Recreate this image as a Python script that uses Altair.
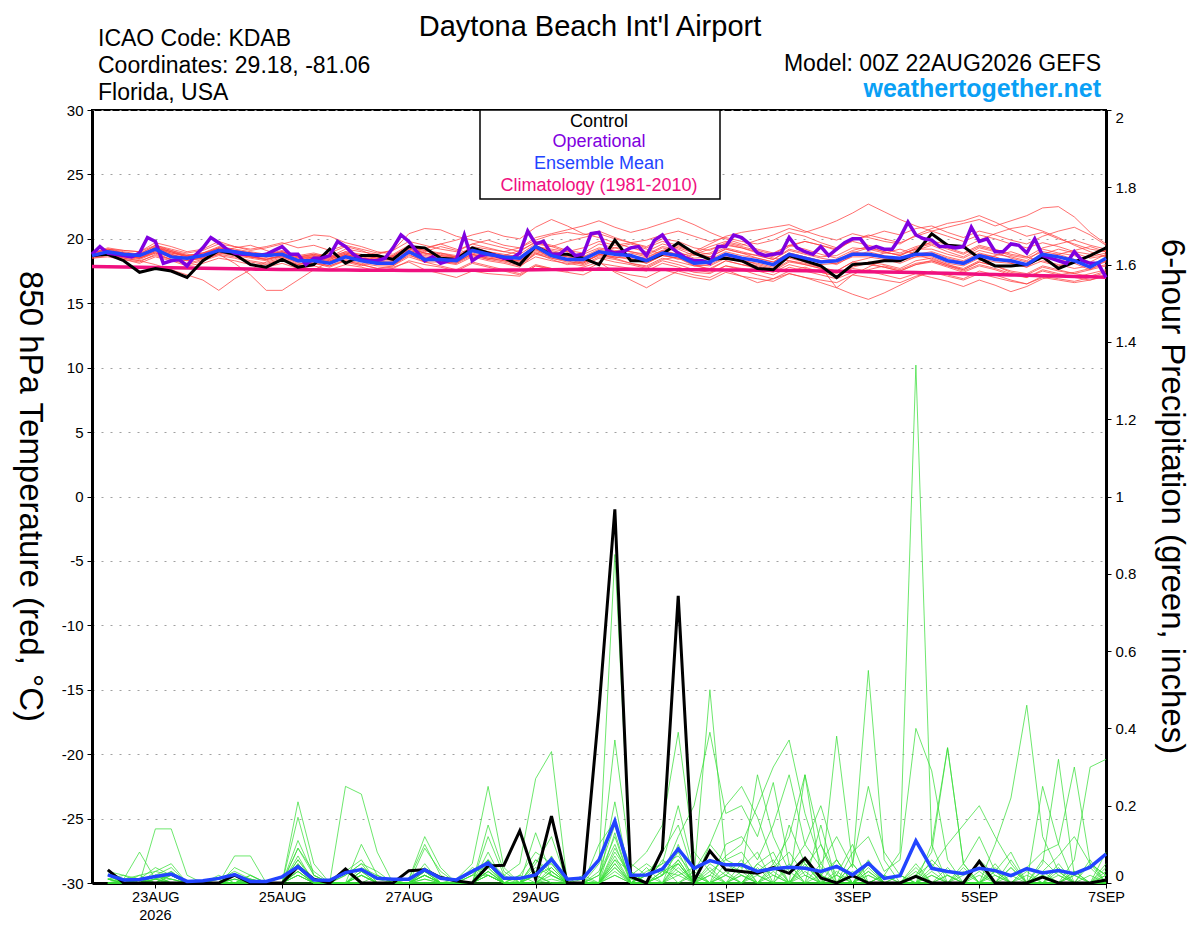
import altair as alt
import pandas as pd

FONT = "Liberation Sans"

# ---------------- axis / label definitions ----------------
# x is hours since 00Z 22AUG2026
X_DOMAIN = [0, 384]
TICK_HOURS = [24, 72, 120, 168, 240, 288, 336, 384]
TICK_LABELS = ["23AUG", "25AUG", "27AUG", "29AUG", "1SEP", "3SEP", "5SEP", "7SEP"]
YEAR_LABEL = "2026"
STEP_T = 6      # 6-hourly ensemble output
STEP_OP = 3     # 3-hourly operational output
TEMP_TICKS = [-30, -25, -20, -15, -10, -5, 0, 5, 10, 15, 20, 25, 30]
PRECIP_TICKS = [0, 0.2, 0.4, 0.6, 0.8, 1.0, 1.2, 1.4, 1.6, 1.8, 2.0]

# ---------------- 850 hPa temperature (deg C) ----------------
CONTROL_T = [
    18.7, 18.8, 18.3, 17.4, 17.7, 17.5, 17.0, 18.3, 19.1, 18.8,
    18.0, 17.8, 18.4, 17.8, 18.0, 19.2, 18.1, 18.7, 18.7, 18.4,
    19.4, 19.3, 18.5, 18.4, 19.3, 18.9, 18.5, 18.0, 19.4, 18.8,
    18.8, 18.5, 18.0, 19.9, 18.3, 18.3, 18.8, 19.7, 18.9, 18.4,
    18.5, 18.3, 17.7, 17.6, 18.7, 18.3, 17.9, 17.0, 18.0, 18.1,
    18.3, 18.3, 18.9, 20.4, 19.5, 19.4, 18.5, 17.9, 17.9, 18.0,
    18.6, 17.7, 18.2, 18.7, 19.3]

MEAN_T = [
    18.7, 19.0, 18.8, 18.7, 19.2, 18.6, 18.5, 18.7, 19.1, 19.0,
    18.8, 18.7, 18.8, 18.3, 18.3, 18.1, 18.6, 18.3, 18.1, 18.1,
    19.0, 18.4, 18.4, 18.3, 19.1, 18.8, 18.6, 18.5, 19.4, 18.7,
    18.4, 18.4, 19.0, 18.8, 18.7, 18.3, 18.9, 18.7, 18.1, 18.2,
    18.8, 18.5, 18.3, 18.0, 18.8, 18.5, 18.2, 18.3, 18.8, 18.8,
    18.6, 18.5, 18.8, 18.8, 18.3, 18.1, 18.7, 18.4, 18.3, 18.0,
    18.8, 18.6, 18.3, 17.8, 18.5]

CLIMO_T = [
    17.85, 17.83, 17.81, 17.79, 17.77, 17.75, 17.73, 17.71, 17.69, 17.67,
    17.65, 17.63, 17.62, 17.61, 17.60, 17.59, 17.58, 17.57, 17.56, 17.56,
    17.55, 17.55, 17.55, 17.55, 17.56, 17.57, 17.58, 17.59, 17.60, 17.61,
    17.62, 17.63, 17.63, 17.63, 17.63, 17.62, 17.62, 17.61, 17.60, 17.60,
    17.59, 17.58, 17.57, 17.56, 17.54, 17.52, 17.50, 17.48, 17.46, 17.44,
    17.42, 17.40, 17.38, 17.35, 17.32, 17.29, 17.26, 17.23, 17.20, 17.17,
    17.14, 17.11, 17.08, 17.05, 17.02]

OPER_T = [
    18.8, 19.4, 18.9, 18.8, 18.7, 18.6, 18.9, 20.1, 19.8, 18.1,
    18.3, 18.4, 17.9, 18.7, 19.3, 20.1, 19.7, 19.2, 18.9, 18.8,
    18.8, 18.7, 18.8, 19.1, 19.4, 18.8, 18.8, 18.0, 18.5, 18.5,
    18.7, 19.8, 19.4, 18.8, 18.4, 18.3, 18.3, 18.5, 19.3, 20.3,
    19.8, 19.0, 18.3, 18.6, 18.1, 18.3, 18.4, 20.3, 18.3, 18.7,
    18.8, 18.7, 18.5, 18.5, 18.9, 20.6, 19.6, 19.8, 18.8, 18.8,
    19.3, 18.7, 18.8, 20.4, 20.5, 19.1, 18.9, 19.0, 19.3, 19.4,
    18.7, 19.9, 20.3, 19.4, 18.9, 18.5, 18.3, 18.3, 18.1, 19.4,
    19.4, 20.3, 20.1, 19.6, 18.9, 18.7, 18.8, 18.9, 20.1, 19.3,
    19.0, 18.8, 19.4, 18.7, 19.2, 19.7, 20.0, 20.0, 19.2, 19.4,
    19.2, 19.2, 20.1, 21.3, 20.3, 20.0, 19.9, 19.4, 19.4, 19.3,
    19.4, 20.9, 19.8, 20.0, 19.0, 19.0, 19.6, 19.5, 18.9, 20.0,
    18.7, 18.5, 18.3, 18.1, 19.0, 18.3, 18.1, 18.1, 17.0]

TEMP_MEMBERS = [
    [18.9, 19.2, 19.0, 18.8, 19.5, 19.1, 18.7, 18.9, 19.4, 19.2,
     19.0, 18.8, 19.1, 18.7, 18.9, 18.6, 19.2, 19.0, 18.8, 19.1,
     20.4, 20.8, 20.7, 20.2, 19.9, 19.6, 19.3, 19.0, 19.8, 19.5,
     19.1, 18.9, 19.6, 19.3, 19.0, 18.8, 19.4, 19.2, 18.7, 18.9,
     19.5, 19.3, 19.0, 18.6, 19.4, 19.8, 19.5, 19.1, 19.9, 20.3,
     20.0, 19.7, 20.2, 20.6, 20.9, 21.2, 21.5, 21.0, 21.4, 21.8,
     22.4, 22.5, 21.7, 20.5, 19.6],
    [18.6, 18.9, 18.5, 18.3, 18.0, 17.6, 17.2, 16.8, 16.0, 16.9,
     17.6, 18.2, 18.5, 18.0, 18.3, 18.7, 18.2, 17.9, 18.4, 18.6,
     19.1, 18.5, 18.2, 18.0, 18.6, 18.3, 18.1, 17.8, 18.9, 18.4,
     18.0, 18.2, 18.7, 18.5, 18.1, 17.8, 18.4, 18.6, 18.0, 17.6,
     18.3, 18.0, 17.8, 17.5, 18.2, 18.0, 17.7, 17.3, 17.9, 18.2,
     18.0, 17.7, 18.3, 18.5, 18.0, 17.6, 18.2, 17.9, 17.4, 17.2,
     17.8, 17.5, 17.3, 17.6, 17.9],
    [18.7, 18.8, 18.6, 18.9, 19.4, 19.0, 18.6, 18.4, 18.8, 18.1,
     17.2, 16.0, 16.0, 16.8, 17.6, 18.2, 18.8, 18.5, 18.3, 18.0,
     18.7, 18.4, 18.9, 18.6, 19.2, 18.9, 18.5, 18.2, 19.0, 18.7,
     18.4, 18.1, 18.8, 18.5, 18.9, 18.6, 19.1, 18.8, 18.4, 18.2,
     18.7, 18.4, 18.0, 17.7, 18.5, 18.2, 17.8, 16.2, 17.2, 17.8,
     18.4, 18.1, 18.6, 18.9, 18.5, 18.2, 18.8, 18.6, 18.1, 17.8,
     18.3, 18.0, 17.7, 17.9, 18.2],
    [18.9, 19.3, 19.1, 19.0, 19.7, 19.4, 19.0, 19.2, 19.8, 19.4,
     19.1, 19.3, 19.6, 19.9, 20.3, 20.2, 19.7, 19.4, 19.0, 18.8,
     19.5, 19.2, 19.6, 19.9, 20.3, 20.6, 20.2, 20.0, 20.9, 21.5,
     21.0, 20.4, 20.1, 19.7, 19.3, 19.0, 19.6, 19.3, 18.9, 18.6,
     19.2, 18.9, 18.5, 18.2, 18.9, 18.6, 18.3, 18.0, 18.7, 19.0,
     18.7, 18.4, 19.1, 19.5, 19.0, 18.6, 19.3, 19.0, 18.5, 18.2,
     18.8, 19.2, 18.9, 18.5, 18.7],
    [18.6, 18.9, 18.7, 18.5, 19.1, 18.8, 18.4, 18.6, 19.0, 18.9,
     18.6, 18.4, 18.7, 18.3, 18.5, 18.2, 18.8, 18.5, 18.3, 18.6,
     19.3, 19.0, 19.4, 19.1, 19.6, 19.9, 19.5, 19.3, 20.1, 20.4,
     20.7, 21.0, 21.4, 20.9, 20.5, 20.8, 21.2, 21.6, 21.1, 20.5,
     20.0, 19.6, 19.2, 18.9, 19.5, 19.2, 18.8, 18.5, 19.1, 19.4,
     19.0, 18.7, 19.3, 19.6, 19.2, 18.8, 19.4, 19.1, 18.7, 18.5,
     19.0, 18.8, 18.4, 18.1, 18.3],
    [18.5, 18.7, 18.4, 18.2, 18.8, 18.4, 18.0, 18.3, 18.7, 18.5,
     18.2, 18.0, 18.4, 17.9, 18.1, 17.8, 18.3, 18.0, 17.7, 17.9,
     18.6, 18.2, 17.9, 17.6, 18.2, 17.9, 17.6, 17.3, 18.0, 17.7,
     17.5, 17.8, 18.2, 17.4, 16.8, 16.2, 16.9, 17.5, 17.2, 17.0,
     17.6, 17.1, 16.6, 16.9, 17.5, 17.8, 17.4, 17.1, 17.8, 18.1,
     17.8, 17.5, 18.0, 18.3, 17.9, 17.5, 18.0, 17.7, 17.3, 17.0,
     17.6, 17.3, 17.0, 17.3, 17.6],
    [18.8, 19.0, 18.8, 18.6, 19.2, 18.9, 18.6, 18.8, 19.3, 19.1,
     18.9, 18.7, 19.0, 18.6, 18.8, 18.5, 19.0, 18.8, 18.5, 18.7,
     19.4, 19.1, 18.8, 18.6, 19.3, 19.0, 18.7, 18.4, 19.3, 19.1,
     18.8, 18.6, 19.2, 19.0, 18.7, 18.5, 19.1, 19.4, 19.0, 19.6,
     20.2, 20.5, 20.7, 20.9, 21.1, 20.6, 20.2, 19.9, 20.4, 20.1,
     19.8, 19.6, 20.3, 20.8, 21.2, 21.4, 21.8, 21.3, 20.7, 20.2,
     20.5, 20.0, 19.6, 19.2, 19.0],
    [18.7, 19.1, 18.9, 18.7, 19.3, 19.0, 18.7, 18.9, 19.2, 19.0,
     18.8, 18.6, 18.9, 18.5, 18.7, 18.4, 18.9, 18.6, 18.4, 18.5,
     19.2, 18.9, 18.6, 18.4, 19.0, 18.7, 18.5, 18.3, 19.1, 18.8,
     18.6, 18.4, 19.0, 18.8, 18.6, 18.4, 19.0, 18.7, 18.9, 19.4,
     19.8, 19.5, 19.9, 20.3, 20.8, 20.5, 20.9, 21.4, 22.0, 22.7,
     22.1, 21.5, 21.0, 20.6, 20.2, 19.8, 20.3, 20.0, 19.6, 19.3,
     19.7, 19.4, 19.0, 18.8, 19.1],
    [18.6, 18.8, 18.6, 18.4, 18.9, 18.6, 18.3, 18.5, 18.9, 18.7,
     18.5, 18.3, 18.6, 18.2, 18.4, 18.1, 18.6, 18.3, 18.0, 18.2,
     18.9, 18.6, 18.3, 18.1, 18.7, 18.4, 18.2, 17.9, 18.6, 18.3,
     18.1, 17.9, 18.5, 18.2, 18.0, 17.7, 18.3, 18.0, 17.6, 17.4,
     17.9, 17.6, 17.2, 16.9, 17.3, 17.0, 16.6, 16.2, 15.7, 15.3,
     15.8, 16.4, 17.0, 17.5, 17.2, 16.9, 17.5, 17.2, 16.8, 16.5,
     17.1, 16.9, 16.7, 17.0, 17.4],
    [18.7, 18.9, 18.7, 18.5, 19.0, 18.7, 18.5, 18.7, 19.1, 18.8,
     18.6, 18.4, 18.7, 18.3, 18.5, 18.3, 18.7, 18.4, 18.2, 18.3,
     19.0, 18.7, 18.5, 18.2, 18.8, 18.5, 18.3, 18.0, 18.8, 18.5,
     18.3, 18.0, 18.6, 18.4, 18.1, 17.9, 18.5, 18.2, 17.9, 17.7,
     18.3, 18.0, 17.7, 17.4, 18.0, 17.7, 17.4, 17.1, 17.7, 17.5,
     17.2, 16.9, 17.3, 17.0, 16.7, 16.3, 16.8, 16.4, 15.9, 16.3,
     16.9, 17.2, 17.4, 17.7, 18.0],
    [18.9, 19.2, 19.1, 19.0, 19.5, 19.2, 18.9, 19.1, 19.6, 19.4,
     19.2, 19.4, 19.7, 19.3, 19.5, 19.1, 19.5, 19.2, 18.9, 19.1,
     19.8, 19.5, 19.2, 19.0, 19.6, 19.3, 19.0, 18.8, 19.6, 19.4,
     19.8, 20.1, 20.4, 20.0, 19.7, 19.4, 20.0, 19.8, 19.3, 19.1,
     19.7, 19.4, 19.1, 18.8, 19.5, 19.8, 19.5, 19.2, 19.9, 20.2,
     20.6, 20.3, 20.8, 21.0, 20.5, 20.1, 20.6, 20.3, 19.9, 19.6,
     20.2, 20.6, 20.9, 20.3, 19.5],
    [18.5, 18.6, 18.4, 18.1, 18.6, 18.3, 17.9, 18.1, 18.5, 18.3,
     18.0, 17.8, 18.1, 17.7, 17.9, 17.6, 18.0, 17.8, 17.5, 17.7,
     18.3, 18.0, 17.8, 17.5, 18.1, 17.8, 17.5, 17.2, 17.9, 17.6,
     17.4, 17.2, 17.8, 17.5, 17.2, 17.0, 17.6, 17.3, 17.0, 16.8,
     17.4, 17.1, 16.9, 16.7, 17.3, 17.0, 16.8, 16.6, 17.2, 17.0,
     16.8, 16.6, 17.1, 17.4, 17.1, 16.8, 17.3, 17.0, 16.7, 16.5,
     17.0, 16.8, 16.6, 16.8, 17.1],
    [18.8, 19.0, 18.9, 18.8, 19.3, 18.9, 18.7, 18.9, 19.3, 19.1,
     18.9, 18.8, 19.0, 18.6, 18.7, 18.5, 18.9, 18.7, 18.5, 18.6,
     19.3, 18.9, 18.7, 18.6, 19.3, 19.0, 18.8, 18.6, 19.5, 19.0,
     18.7, 18.8, 19.3, 19.1, 19.0, 18.7, 19.3, 19.0, 18.5, 18.6,
     19.2, 18.9, 18.7, 18.4, 19.2, 18.9, 18.6, 18.7, 19.3, 19.2,
     18.9, 18.8, 19.2, 19.2, 18.8, 18.5, 19.1, 18.8, 18.6, 18.3,
     19.2, 18.9, 18.7, 18.2, 18.8],
    [18.6, 18.8, 18.6, 18.5, 18.9, 18.4, 18.3, 18.5, 18.9, 18.8,
     18.6, 18.5, 18.6, 18.1, 18.1, 17.9, 18.4, 18.1, 17.9, 17.9,
     18.8, 18.2, 18.2, 18.1, 18.9, 18.6, 18.4, 18.3, 19.2, 18.5,
     18.2, 18.1, 18.8, 18.6, 18.5, 18.1, 18.7, 18.5, 17.9, 18.0,
     18.6, 18.3, 18.1, 17.8, 18.6, 18.3, 18.0, 18.1, 18.6, 18.6,
     18.4, 18.3, 18.6, 18.6, 18.1, 17.9, 18.5, 18.2, 18.1, 17.8,
     18.6, 18.4, 18.1, 17.6, 18.3],
    [18.7, 19.0, 18.8, 18.7, 19.2, 18.8, 18.5, 18.7, 19.1, 18.9,
     18.7, 18.6, 18.8, 18.4, 18.6, 18.3, 18.7, 18.5, 18.3, 18.4,
     19.1, 18.8, 18.6, 18.5, 19.1, 18.8, 18.6, 18.4, 19.2, 18.9,
     18.6, 18.5, 19.1, 18.9, 18.7, 18.4, 19.0, 18.8, 18.3, 18.4,
     19.0, 18.7, 18.5, 18.2, 18.9, 18.6, 18.3, 18.1, 18.9, 19.3,
     19.0, 18.7, 19.2, 19.8, 19.6, 19.3, 19.9, 20.4, 20.8, 21.0,
     20.6, 20.1, 19.5, 19.0, 18.6],
    [18.8, 19.2, 18.9, 18.6, 19.4, 19.1, 18.8, 18.5, 19.0, 19.3,
     19.5, 19.1, 18.7, 18.3, 18.6, 18.9, 19.4, 19.1, 18.6, 18.3,
     18.9, 19.3, 19.6, 19.2, 18.8, 18.4, 18.7, 19.1, 19.7, 19.4,
     19.0, 18.6, 18.9, 19.3, 19.6, 19.2, 18.8, 18.4, 18.8, 19.2,
     19.6, 19.3, 18.9, 18.5, 18.3, 18.1, 17.8, 17.5, 18.2, 18.5,
     18.9, 19.2, 18.8, 18.4, 18.0, 17.7, 18.3, 18.7, 19.0, 18.6,
     18.2, 17.9, 18.3, 18.6, 18.9],
    [18.6, 18.8, 18.5, 18.3, 18.7, 18.4, 18.1, 18.4, 18.8, 18.6,
     18.3, 18.1, 18.4, 18.0, 18.2, 17.9, 18.3, 18.0, 17.7, 17.8,
     18.2, 17.6, 17.3, 17.0, 17.5, 17.3, 17.2, 17.1, 17.9, 17.7,
     17.6, 17.5, 18.1, 17.9, 17.7, 17.5, 18.1, 17.8, 17.4, 17.3,
     17.9, 17.7, 17.5, 17.2, 17.8, 17.5, 17.2, 16.9, 17.4, 17.6,
     17.9, 17.6, 18.1, 18.3, 17.9, 17.6, 18.2, 17.9, 17.5, 17.3,
     17.9, 17.6, 17.3, 17.1, 17.5],
    [18.7, 18.9, 18.8, 18.6, 19.1, 18.7, 18.5, 18.7, 19.2, 19.0,
     18.8, 18.6, 18.9, 18.5, 18.6, 18.4, 18.8, 18.5, 18.4, 18.5,
     19.2, 18.9, 18.7, 18.5, 19.1, 18.9, 18.7, 18.6, 19.4, 19.2,
     19.0, 19.3, 19.8, 19.5, 19.7, 19.9, 20.3, 20.6, 20.2, 19.8,
     20.1, 19.8, 19.6, 19.9, 20.5, 20.2, 19.7, 19.3, 19.8, 19.5,
     19.2, 18.9, 19.4, 19.7, 19.3, 18.9, 19.5, 19.2, 18.8, 18.6,
     19.3, 19.6, 19.9, 19.5, 19.2],
    [18.6, 18.9, 18.7, 18.5, 19.0, 18.6, 18.4, 18.6, 19.0, 18.8,
     18.6, 18.4, 18.7, 18.2, 18.4, 18.2, 18.6, 18.3, 18.1, 18.2,
     18.9, 18.5, 18.3, 18.2, 18.8, 18.5, 18.3, 18.1, 18.9, 18.6,
     18.4, 18.2, 18.8, 18.6, 18.4, 18.1, 18.7, 18.5, 18.0, 17.9,
     18.5, 18.2, 17.9, 17.6, 18.3, 18.0, 17.7, 17.5, 18.2, 18.0,
     17.8, 17.5, 18.0, 18.2, 17.8, 17.4, 17.9, 17.6, 17.2, 17.0,
     17.5, 17.2, 17.0, 16.8, 17.2],
    [18.8, 19.1, 18.9, 18.7, 19.3, 19.0, 18.6, 18.8, 19.3, 19.1,
     18.9, 18.7, 19.0, 18.6, 18.8, 18.6, 19.0, 18.7, 18.5, 18.7,
     19.4, 19.1, 18.9, 18.7, 19.4, 19.2, 19.0, 19.3, 19.9, 20.3,
     20.5, 20.3, 20.6, 20.1, 19.7, 19.3, 19.8, 19.5, 19.0, 18.8,
     19.3, 19.0, 18.7, 18.4, 19.1, 18.8, 18.5, 18.3, 19.0, 18.8,
     18.5, 18.3, 18.8, 19.0, 18.6, 18.3, 18.9, 18.6, 18.2, 18.0,
     18.6, 18.8, 19.1, 19.4, 19.0],
]

# ---------------- 6-hour precipitation (inches), from 06Z 22AUG ----------------
CONTROL_P = [
    0.034, 0.0, 0.0, 0.0, 0.0, 0.0, 0.0, 0.0, 0.02, 0.0,
    0.0, 0.0, 0.042, 0.01, 0.0, 0.036, 0.0, 0.0, 0.0, 0.032,
    0.034, 0.014, 0.005, 0.0, 0.044, 0.046, 0.135, 0.01, 0.173, 0.0,
    0.0, 0.45, 0.967, 0.016, 0.0, 0.085, 0.743, 0.005, 0.083, 0.034,
    0.03, 0.025, 0.04, 0.025, 0.064, 0.013, 0.0, 0.019, 0.0, 0.0,
    0.0, 0.017, 0.0, 0.0, 0.0, 0.056, 0.0, 0.0, 0.0, 0.015,
    0.0, 0.0, 0.0, 0.008]

MEAN_P = [
    0.021, 0.008, 0.009, 0.017, 0.023, 0.004, 0.006, 0.012, 0.022, 0.004,
    0.004, 0.016, 0.042, 0.008, 0.007, 0.027, 0.035, 0.012, 0.01, 0.01,
    0.034, 0.012, 0.008, 0.03, 0.052, 0.012, 0.012, 0.021, 0.061, 0.01,
    0.013, 0.06, 0.16, 0.02, 0.021, 0.036, 0.088, 0.038, 0.058, 0.047,
    0.047, 0.03, 0.037, 0.041, 0.038, 0.03, 0.043, 0.021, 0.051, 0.012,
    0.019, 0.109, 0.038, 0.03, 0.024, 0.038, 0.032, 0.019, 0.037, 0.026,
    0.032, 0.024, 0.041, 0.075]

PRECIP_MEMBERS = [
    [0.02, 0.01, 0.08, 0.01, 0.0, 0.0, 0.0, 0.01, 0.03, 0.01,
     0.0, 0.0, 0.09, 0.02, 0.0, 0.0, 0.03, 0.01, 0.0, 0.0,
     0.04, 0.0, 0.0, 0.02, 0.06, 0.01, 0.0, 0.05, 0.12, 0.0,
     0.0, 0.03, 0.15, 0.01, 0.0, 0.02, 0.08, 0.0, 0.05, 0.02,
     0.0, 0.04, 0.0, 0.0, 0.06, 0.0, 0.02, 0.0, 0.03, 0.0,
     0.0, 0.02, 0.0, 0.0, 0.03, 0.0, 0.0, 0.04, 0.0, 0.0,
     0.0, 0.02, 0.0, 0.01],
    [0.03, 0.01, 0.0, 0.14, 0.14, 0.02, 0.0, 0.0, 0.0, 0.02,
     0.0, 0.0, 0.04, 0.0, 0.0, 0.02, 0.05, 0.0, 0.0, 0.0,
     0.02, 0.0, 0.0, 0.0, 0.03, 0.0, 0.02, 0.08, 0.05, 0.0,
     0.0, 0.0, 0.21, 0.0, 0.02, 0.05, 0.2, 0.03, 0.0, 0.0,
     0.02, 0.0, 0.04, 0.08, 0.02, 0.0, 0.0, 0.05, 0.0, 0.0,
     0.0, 0.0, 0.03, 0.0, 0.0, 0.06, 0.02, 0.0, 0.0, 0.03,
     0.0, 0.0, 0.05, 0.02],
    [0.01, 0.0, 0.02, 0.03, 0.05, 0.0, 0.0, 0.0, 0.07, 0.07,
     0.0, 0.0, 0.21, 0.05, 0.0, 0.0, 0.02, 0.0, 0.0, 0.01,
     0.1, 0.02, 0.0, 0.0, 0.15, 0.03, 0.0, 0.02, 0.04, 0.0,
     0.01, 0.0, 0.09, 0.02, 0.0, 0.06, 0.03, 0.0, 0.1, 0.05,
     0.03, 0.28, 0.12, 0.03, 0.0, 0.02, 0.06, 0.0, 0.0, 0.02,
     0.0, 0.04, 0.0, 0.02, 0.0, 0.0, 0.03, 0.08, 0.0, 0.0,
     0.03, 0.0, 0.0, 0.04],
    [0.02, 0.0, 0.0, 0.02, 0.04, 0.0, 0.0, 0.02, 0.0, 0.0,
     0.0, 0.0, 0.17, 0.02, 0.0, 0.25, 0.23, 0.08, 0.0, 0.0,
     0.03, 0.0, 0.0, 0.04, 0.02, 0.0, 0.0, 0.13, 0.02, 0.0,
     0.0, 0.0, 0.05, 0.0, 0.0, 0.03, 0.05, 0.0, 0.0, 0.02,
     0.06, 0.0, 0.0, 0.0, 0.28, 0.02, 0.0, 0.0, 0.04, 0.0,
     0.0, 0.0, 0.06, 0.02, 0.0, 0.0, 0.04, 0.0, 0.02, 0.0,
     0.0, 0.03, 0.0, 0.0],
    [0.01, 0.02, 0.01, 0.04, 0.02, 0.0, 0.0, 0.0, 0.02, 0.01,
     0.0, 0.0, 0.09, 0.03, 0.0, 0.0, 0.1, 0.02, 0.0, 0.0,
     0.02, 0.0, 0.01, 0.05, 0.25, 0.04, 0.0, 0.06, 0.03, 0.0,
     0.0, 0.05, 0.85, 0.03, 0.0, 0.0, 0.04, 0.0, 0.0, 0.02,
     0.0, 0.0, 0.02, 0.0, 0.0, 0.05, 0.0, 0.03, 0.0, 0.0,
     0.02, 0.0, 0.0, 0.04, 0.0, 0.0, 0.0, 0.02, 0.0, 0.0,
     0.05, 0.0, 0.0, 0.02],
    [0.03, 0.02, 0.0, 0.03, 0.02, 0.0, 0.0, 0.0, 0.04, 0.02,
     0.0, 0.0, 0.06, 0.01, 0.0, 0.02, 0.05, 0.03, 0.0, 0.01,
     0.12, 0.04, 0.0, 0.02, 0.06, 0.02, 0.05, 0.27, 0.34, 0.0,
     0.02, 0.0, 0.37, 0.05, 0.02, 0.08, 0.15, 0.02, 0.0, 0.05,
     0.02, 0.0, 0.05, 0.0, 0.0, 0.0, 0.38, 0.05, 0.0, 0.02,
     0.0, 0.0, 0.0, 0.0, 0.02, 0.04, 0.0, 0.0, 0.0, 0.06,
     0.02, 0.0, 0.0, 0.0],
    [0.0, 0.0, 0.01, 0.02, 0.01, 0.0, 0.0, 0.0, 0.01, 0.0,
     0.0, 0.0, 0.05, 0.0, 0.0, 0.03, 0.06, 0.0, 0.0, 0.0,
     0.09, 0.03, 0.0, 0.0, 0.08, 0.0, 0.0, 0.03, 0.06, 0.0,
     0.0, 0.1, 0.16, 0.04, 0.08, 0.15, 0.39, 0.08, 0.03, 0.0,
     0.0, 0.05, 0.02, 0.0, 0.04, 0.1, 0.0, 0.0, 0.06, 0.0,
     0.02, 0.0, 0.0, 0.0, 0.04, 0.0, 0.0, 0.0, 0.03, 0.0,
     0.0, 0.0, 0.02, 0.0],
    [0.02, 0.0, 0.0, 0.01, 0.03, 0.0, 0.0, 0.0, 0.0, 0.02,
     0.0, 0.0, 0.03, 0.0, 0.0, 0.0, 0.04, 0.02, 0.0, 0.0,
     0.05, 0.0, 0.0, 0.03, 0.04, 0.0, 0.0, 0.0, 0.07, 0.0,
     0.0, 0.02, 0.12, 0.0, 0.03, 0.05, 0.07, 0.02, 0.5, 0.06,
     0.04, 0.08, 0.0, 0.15, 0.05, 0.0, 0.02, 0.1, 0.0, 0.0,
     0.0, 0.02, 0.05, 0.0, 0.0, 0.0, 0.02, 0.0, 0.0, 0.0,
     0.04, 0.0, 0.0, 0.03],
    [0.0, 0.01, 0.02, 0.0, 0.0, 0.0, 0.0, 0.01, 0.02, 0.0,
     0.0, 0.0, 0.11, 0.02, 0.0, 0.0, 0.02, 0.0, 0.0, 0.0,
     0.03, 0.0, 0.0, 0.0, 0.12, 0.02, 0.0, 0.04, 0.02, 0.0,
     0.0, 0.0, 0.08, 0.02, 0.05, 0.02, 0.12, 0.2, 0.39, 0.18,
     0.2, 0.12, 0.26, 0.05, 0.0, 0.0, 0.06, 0.0, 0.02, 0.0,
     0.0, 0.0, 0.02, 0.0, 0.0, 0.0, 0.0, 0.04, 0.0, 0.0,
     0.0, 0.0, 0.0, 0.05],
    [0.01, 0.0, 0.0, 0.02, 0.01, 0.0, 0.0, 0.0, 0.0, 0.0,
     0.0, 0.0, 0.07, 0.0, 0.0, 0.0, 0.03, 0.0, 0.0, 0.0,
     0.02, 0.0, 0.0, 0.0, 0.05, 0.0, 0.0, 0.02, 0.0, 0.0,
     0.0, 0.0, 0.06, 0.0, 0.02, 0.04, 0.0, 0.03, 0.1, 0.2,
     0.25, 0.17, 0.05, 0.12, 0.28, 0.1, 0.02, 0.0, 0.05, 0.0,
     0.0, 0.0, 0.1, 0.35, 0.05, 0.0, 0.0, 0.0, 0.0, 0.0,
     0.02, 0.0, 0.06, 0.0],
    [0.0, 0.0, 0.01, 0.0, 0.02, 0.0, 0.0, 0.0, 0.01, 0.0,
     0.0, 0.0, 0.04, 0.0, 0.0, 0.0, 0.02, 0.0, 0.0, 0.0,
     0.01, 0.0, 0.0, 0.0, 0.03, 0.0, 0.0, 0.0, 0.02, 0.0,
     0.0, 0.0, 0.04, 0.0, 0.0, 0.02, 0.05, 0.0, 0.02, 0.07,
     0.1, 0.2, 0.3, 0.37, 0.18, 0.05, 0.12, 0.04, 0.55, 0.06,
     0.0, 0.02, 0.0, 0.0, 0.0, 0.0, 0.05, 0.0, 0.0, 0.02,
     0.0, 0.0, 0.0, 0.0],
    [0.0, 0.0, 0.0, 0.01, 0.0, 0.0, 0.0, 0.0, 0.0, 0.0,
     0.0, 0.0, 0.02, 0.0, 0.0, 0.0, 0.0, 0.0, 0.0, 0.0,
     0.0, 0.0, 0.0, 0.0, 0.02, 0.0, 0.0, 0.0, 0.01, 0.0,
     0.0, 0.0, 0.05, 0.0, 0.0, 0.0, 0.02, 0.0, 0.0, 0.0,
     0.02, 0.0, 0.0, 0.05, 0.0, 0.0, 0.03, 0.0, 0.0, 0.02,
     0.08, 1.34, 0.1, 0.0, 0.0, 0.02, 0.0, 0.0, 0.0, 0.0,
     0.0, 0.03, 0.0, 0.0],
    [0.01, 0.0, 0.0, 0.02, 0.0, 0.0, 0.0, 0.0, 0.02, 0.0,
     0.0, 0.0, 0.03, 0.0, 0.0, 0.0, 0.0, 0.0, 0.0, 0.0,
     0.02, 0.0, 0.0, 0.0, 0.04, 0.0, 0.0, 0.02, 0.0, 0.0,
     0.0, 0.02, 0.1, 0.0, 0.0, 0.02, 0.06, 0.0, 0.04, 0.0,
     0.0, 0.05, 0.08, 0.0, 0.03, 0.0, 0.0, 0.08, 0.12, 0.03,
     0.06, 0.4, 0.29, 0.06, 0.0, 0.0, 0.03, 0.0, 0.0, 0.0,
     0.0, 0.02, 0.04, 0.0],
    [0.0, 0.0, 0.0, 0.01, 0.02, 0.0, 0.0, 0.0, 0.0, 0.0,
     0.0, 0.0, 0.05, 0.0, 0.0, 0.0, 0.0, 0.0, 0.0, 0.0,
     0.0, 0.0, 0.0, 0.0, 0.06, 0.0, 0.0, 0.0, 0.03, 0.0,
     0.0, 0.0, 0.07, 0.0, 0.0, 0.0, 0.03, 0.0, 0.0, 0.03,
     0.0, 0.02, 0.0, 0.0, 0.06, 0.02, 0.0, 0.0, 0.05, 0.0,
     0.0, 0.02, 0.08, 0.35, 0.05, 0.0, 0.1, 0.22, 0.46, 0.12,
     0.03, 0.0, 0.0, 0.02],
    [0.0, 0.0, 0.0, 0.0, 0.01, 0.0, 0.0, 0.0, 0.0, 0.0,
     0.0, 0.0, 0.02, 0.0, 0.0, 0.0, 0.02, 0.0, 0.0, 0.0,
     0.0, 0.0, 0.0, 0.0, 0.03, 0.0, 0.0, 0.0, 0.0, 0.0,
     0.0, 0.0, 0.04, 0.0, 0.0, 0.0, 0.0, 0.02, 0.0, 0.0,
     0.03, 0.0, 0.0, 0.0, 0.02, 0.0, 0.0, 0.0, 0.0, 0.0,
     0.0, 0.0, 0.02, 0.0, 0.0, 0.0, 0.0, 0.0, 0.0, 0.05,
     0.32, 0.02, 0.0, 0.08],
    [0.01, 0.0, 0.0, 0.02, 0.0, 0.0, 0.0, 0.0, 0.01, 0.0,
     0.0, 0.0, 0.04, 0.0, 0.0, 0.0, 0.03, 0.0, 0.0, 0.0,
     0.02, 0.0, 0.0, 0.0, 0.05, 0.0, 0.0, 0.03, 0.05, 0.0,
     0.0, 0.0, 0.13, 0.0, 0.02, 0.0, 0.1, 0.0, 0.03, 0.06,
     0.08, 0.02, 0.0, 0.04, 0.1, 0.2, 0.06, 0.0, 0.02, 0.0,
     0.0, 0.05, 0.0, 0.0, 0.05, 0.12, 0.03, 0.0, 0.04, 0.08,
     0.1, 0.3, 0.05, 0.0],
    [0.02, 0.0, 0.01, 0.0, 0.02, 0.0, 0.0, 0.0, 0.0, 0.01,
     0.0, 0.0, 0.06, 0.0, 0.0, 0.03, 0.0, 0.0, 0.0, 0.0,
     0.03, 0.0, 0.0, 0.02, 0.02, 0.0, 0.0, 0.06, 0.02, 0.0,
     0.0, 0.0, 0.06, 0.03, 0.0, 0.03, 0.02, 0.04, 0.0, 0.0,
     0.05, 0.0, 0.03, 0.0, 0.05, 0.0, 0.0, 0.0, 0.03, 0.0,
     0.0, 0.03, 0.0, 0.0, 0.0, 0.03, 0.0, 0.06, 0.0, 0.02,
     0.0, 0.06, 0.3, 0.32],
    [0.0, 0.0, 0.0, 0.0, 0.03, 0.0, 0.0, 0.0, 0.0, 0.0,
     0.0, 0.0, 0.03, 0.0, 0.0, 0.0, 0.0, 0.02, 0.0, 0.0,
     0.0, 0.0, 0.0, 0.0, 0.02, 0.0, 0.02, 0.0, 0.03, 0.0,
     0.0, 0.0, 0.03, 0.0, 0.04, 0.0, 0.05, 0.0, 0.0, 0.1,
     0.12, 0.06, 0.15, 0.28, 0.1, 0.04, 0.0, 0.05, 0.25, 0.08,
     0.02, 0.0, 0.04, 0.1, 0.15, 0.2, 0.12, 0.05, 0.0, 0.03,
     0.07, 0.12, 0.05, 0.02],
    [0.0, 0.0, 0.0, 0.01, 0.0, 0.0, 0.0, 0.0, 0.0, 0.0,
     0.0, 0.0, 0.02, 0.0, 0.0, 0.0, 0.0, 0.0, 0.0, 0.0,
     0.0, 0.0, 0.0, 0.0, 0.02, 0.0, 0.0, 0.0, 0.04, 0.0,
     0.0, 0.0, 0.02, 0.0, 0.0, 0.0, 0.06, 0.0, 0.02, 0.0,
     0.0, 0.03, 0.06, 0.0, 0.0, 0.15, 0.0, 0.0, 0.0, 0.0,
     0.0, 0.0, 0.0, 0.02, 0.0, 0.0, 0.0, 0.0, 0.0, 0.25,
     0.1, 0.0, 0.0, 0.0],
    [0.01, 0.01, 0.0, 0.0, 0.0, 0.0, 0.0, 0.0, 0.0, 0.01,
     0.0, 0.0, 0.0, 0.0, 0.0, 0.0, 0.0, 0.0, 0.0, 0.0,
     0.01, 0.0, 0.0, 0.0, 0.0, 0.0, 0.0, 0.0, 0.0, 0.0,
     0.0, 0.0, 0.02, 0.0, 0.0, 0.0, 0.0, 0.0, 0.0, 0.0,
     0.0, 0.0, 0.0, 0.0, 0.0, 0.0, 0.0, 0.0, 0.0, 0.0,
     0.0, 0.0, 0.0, 0.0, 0.0, 0.0, 0.0, 0.0, 0.0, 0.0,
     0.0, 0.0, 0.0, 0.0],
]

# ---------------- text ----------------
TITLE = "Daytona Beach Int'l Airport"
INFO_LEFT = ["ICAO Code: KDAB", "Coordinates: 29.18, -81.06", "Florida, USA"]
MODEL_TEXT = "Model: 00Z 22AUG2026 GEFS"
SITE_TEXT = "weathertogether.net"
LEGEND_ITEMS = ["Control", "Operational", "Ensemble Mean", "Climatology (1981-2010)"]
Y_TITLE_LEFT = "850 hPa Temperature (red, \u00b0C)"
Y_TITLE_RIGHT = "6-hour Precipitation (green, inches)"

# ---------------- styles ----------------
C_MEMBER_T = "#ff4040"
C_MEMBER_P = "#33dd33"
C_CONTROL = "#000000"
C_OPER = "#8000e0"
C_MEAN = "#2244ff"
C_CLIMO = "#f0107f"
C_SITE = "#0aa0f5"
LEGEND_COLORS = [C_CONTROL, C_OPER, C_MEAN, C_CLIMO]

W, H = 1014, 773

# ---------------- checks ----------------
for s in [CONTROL_T, MEAN_T, CLIMO_T] + TEMP_MEMBERS:
    assert len(s) == 65, len(s)
assert len(OPER_T) == 129, len(OPER_T)
for s in [CONTROL_P, MEAN_P] + PRECIP_MEMBERS:
    assert len(s) == 64, len(s)

# ---------------- tables ----------------
def series_df(vals, step, start=0):
    return pd.DataFrame({"h": [step * (i + start) for i in range(len(vals))], "v": vals})

temp_members_df = pd.DataFrame(
    [{"h": STEP_T * i, "v": v, "m": k} for k, mem in enumerate(TEMP_MEMBERS) for i, v in enumerate(mem)]
)
precip_members_df = pd.DataFrame(
    [{"h": STEP_T * (i + 1), "v": v, "m": k} for k, mem in enumerate(PRECIP_MEMBERS) for i, v in enumerate(mem)]
)

label_expr = ""
for hv, lab in zip(TICK_HOURS, TICK_LABELS):
    label_expr += f"datum.value == {hv} ? '{lab}' : "
label_expr += "''"

x_axis = alt.Axis(
    values=TICK_HOURS, labelExpr=label_expr, title=None, grid=False,
    tickSize=5, tickColor="black", tickWidth=1,
    labelFont=FONT, labelFontSize=14.5, labelColor="black", labelPadding=2,
    labelFlush=False, labelOverlap=False, labelBound=False,
    domainColor="black", domainWidth=3,
)


def X():
    return alt.X("h:Q", scale=alt.Scale(domain=X_DOMAIN, nice=False, zero=False), axis=x_axis)


t_axis = alt.Axis(
    values=TEMP_TICKS, labelExpr="'' + datum.value", title=None, orient="left",
    grid=True, gridDash=[2, 7], gridColor="#a0a0a0", gridWidth=1,
    tickSize=5, tickColor="black", labelFont=FONT, labelFontSize=15, labelColor="black",
    labelPadding=4, labelFlush=False, domainColor="black", domainWidth=3,
)
p_axis = alt.Axis(
    values=PRECIP_TICKS, format=".1~f", title=None, orient="right", grid=False,
    tickSize=5, tickColor="black", labelFont=FONT, labelFontSize=15, labelColor="black",
    labelPadding=4, labelFlush=2, domainColor="black", domainWidth=3,
)


def YT():
    return alt.Y("v:Q", scale=alt.Scale(domain=[-30, 30], nice=False, zero=False), axis=t_axis)


def YP():
    return alt.Y("v:Q", scale=alt.Scale(domain=[0, 2], nice=False, zero=False), axis=p_axis)


t_members = alt.Chart(temp_members_df).mark_line(
    color=C_MEMBER_T, strokeWidth=0.8, opacity=0.95).encode(x=X(), y=YT(), detail="m:N")
t_climo = alt.Chart(series_df(CLIMO_T, STEP_T)).mark_line(
    color=C_CLIMO, strokeWidth=3.5).encode(x=X(), y=YT())
t_control = alt.Chart(series_df(CONTROL_T, STEP_T)).mark_line(
    color=C_CONTROL, strokeWidth=3).encode(x=X(), y=YT())
t_oper = alt.Chart(series_df(OPER_T, STEP_OP)).mark_line(
    color=C_OPER, strokeWidth=3.5).encode(x=X(), y=YT())
t_mean = alt.Chart(series_df(MEAN_T, STEP_T)).mark_line(
    color=C_MEAN, strokeWidth=3.5).encode(x=X(), y=YT())
temp_group = alt.layer(t_members, t_climo, t_control, t_oper, t_mean)

p_members = alt.Chart(precip_members_df).mark_line(
    color=C_MEMBER_P, strokeWidth=0.8, opacity=0.9).encode(x=X(), y=YP(), detail="m:N")
p_control = alt.Chart(series_df(CONTROL_P, STEP_T, 1)).mark_line(
    color=C_CONTROL, strokeWidth=3).encode(x=X(), y=YP())
p_mean = alt.Chart(series_df(MEAN_P, STEP_T, 1)).mark_line(
    color=C_MEAN, strokeWidth=3.5).encode(x=X(), y=YP())
precip_group = alt.layer(p_members, p_control, p_mean)

one = pd.DataFrame({"a": [0]})


def label(text, x, y, size, color="black", align="center", baseline="alphabetic", weight="normal", angle=0):
    return alt.Chart(one).mark_text(
        text=text, font=FONT, fontSize=size, color=color, align=align,
        baseline=baseline, fontWeight=weight, angle=angle,
    ).encode(x=alt.value(x), y=alt.value(y))


legend_box = alt.Chart(one).mark_rect(
    fill="white", stroke="black", strokeWidth=1.5
).encode(x=alt.value(388), x2=alt.value(628), y=alt.value(0), y2=alt.value(89))

legend_texts = [
    label(t, 507, y, 18, color=c, baseline="middle")
    for t, c, y in zip(LEGEND_ITEMS, LEGEND_COLORS, [11.5, 32, 54, 75.5])
]

year_text = alt.Chart(pd.DataFrame({"h": [TICK_HOURS[0]], "t": [YEAR_LABEL]})).mark_text(
    font=FONT, fontSize=14.5, color="black", baseline="middle"
).encode(x=X(), y=alt.value(H + 33), text="t:N")

texts = [
    label(TITLE, 498, -74, 29),
    label(INFO_LEFT[0], 6, -64, 23, align="left"),
    label(INFO_LEFT[1], 6, -37, 23, align="left"),
    label(INFO_LEFT[2], 6, -10, 23, align="left"),
    label(MODEL_TEXT, 1009, -39, 23, align="right"),
    label(SITE_TEXT, 1009, -13, 25, color=C_SITE, align="right", weight="bold"),
    label(Y_TITLE_LEFT, -62, H / 2, 33, baseline="middle", angle=90),
    label(Y_TITLE_RIGHT, 1080, H / 2, 33, baseline="middle", angle=90),
]

chart = alt.layer(
    temp_group, precip_group, legend_box, *legend_texts, year_text, *texts
).resolve_scale(
    y="independent"
).properties(
    width=W, height=H,
    autosize=alt.AutoSizeParams(type="none"),
    padding={"left": 84, "top": 102, "right": 86, "bottom": 43},
    background="white",
).configure_view(
    stroke="black", strokeWidth=2
)

chart.save("out.html", embed_options={"renderer": "svg", "actions": False})
